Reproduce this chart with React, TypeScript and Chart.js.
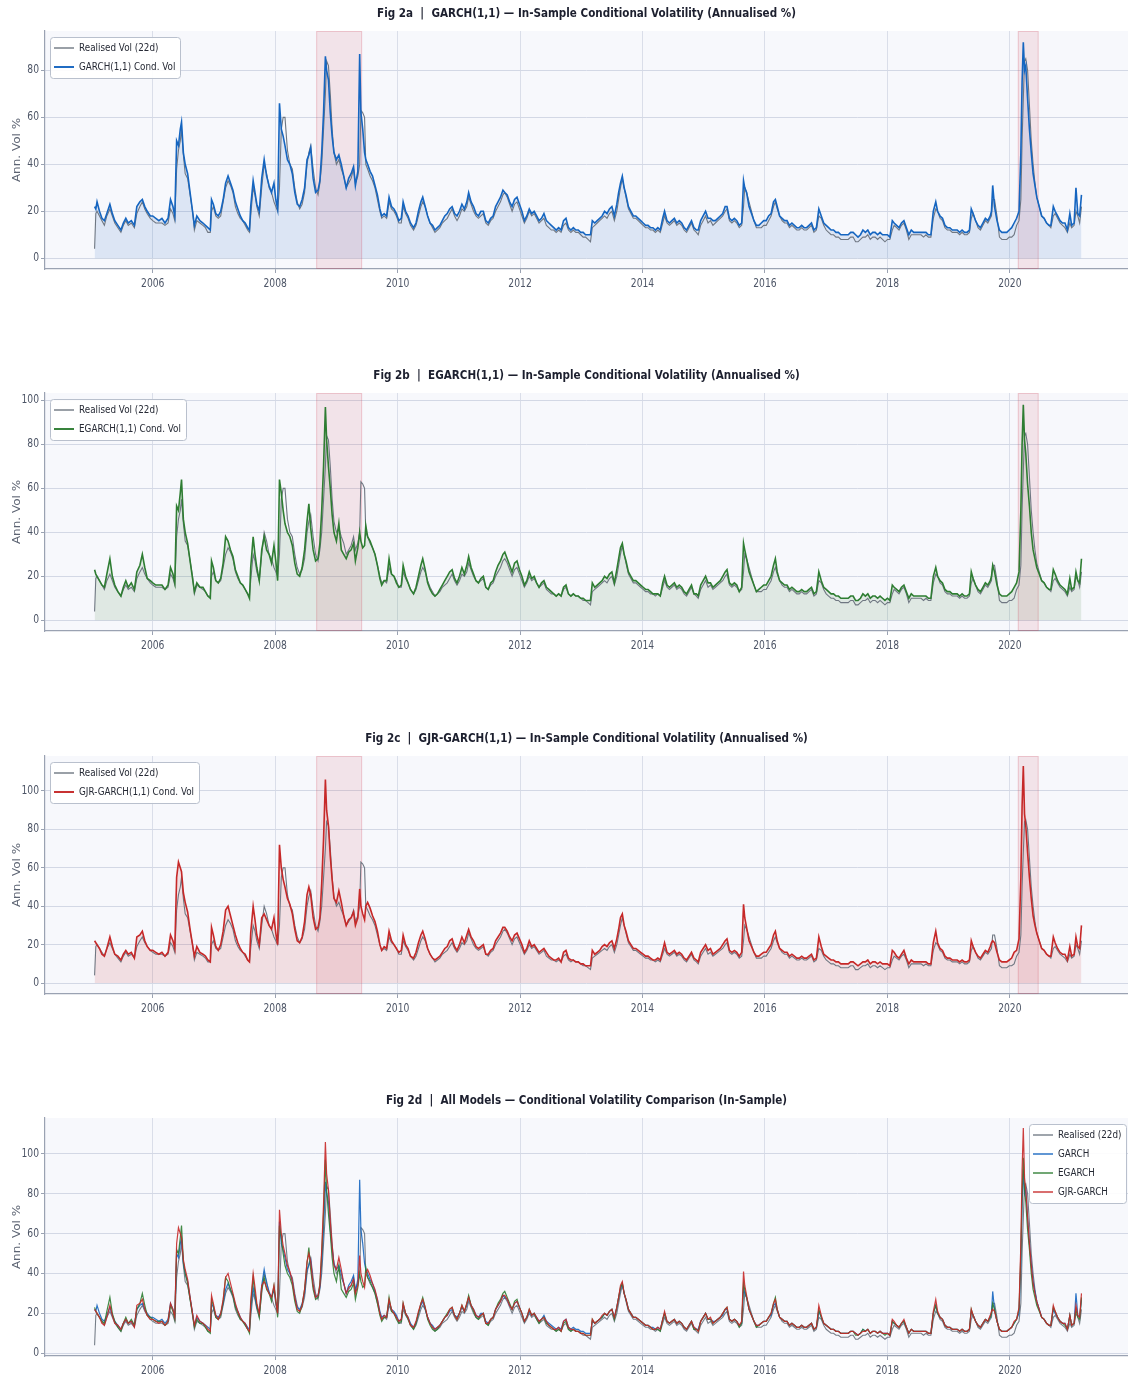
import React, { useEffect, useRef } from 'react';
import { Chart, registerables } from 'chart.js';

Chart.register(...registerables);

// ---------------- DATA (decimal years, annualised vol %) ----------------
const dates = [
  2005.05, 2005.07, 2005.09, 2005.13, 2005.17, 2005.21, 2005.25, 2005.30, 2005.34, 2005.38, 2005.43, 2005.48, 2005.52, 2005.56, 2005.60, 2005.65, 2005.70, 2005.74, 2005.79, 2005.83, 2005.87, 2005.91, 2005.96,
  2006.00, 2006.05, 2006.10, 2006.15, 2006.20, 2006.25, 2006.29, 2006.33, 2006.36, 2006.39, 2006.42, 2006.45, 2006.47, 2006.50, 2006.53, 2006.57, 2006.61, 2006.65, 2006.68, 2006.72, 2006.77, 2006.82, 2006.86, 2006.90, 2006.94, 2006.96, 2006.99,
  2007.03, 2007.07, 2007.11, 2007.15, 2007.19, 2007.23, 2007.27, 2007.31, 2007.35, 2007.39, 2007.43, 2007.47, 2007.51, 2007.55, 2007.58, 2007.60, 2007.64, 2007.67, 2007.70, 2007.74, 2007.78, 2007.82, 2007.86, 2007.90, 2007.94, 2007.98,
  2008.01, 2008.04, 2008.07, 2008.10, 2008.13, 2008.16, 2008.20, 2008.24, 2008.28, 2008.32, 2008.36, 2008.40, 2008.44, 2008.48, 2008.52, 2008.55, 2008.58, 2008.62, 2008.66, 2008.70, 2008.73, 2008.76, 2008.79, 2008.82, 2008.84, 2008.87, 2008.90, 2008.93, 2008.96,
  2009.00, 2009.04, 2009.08, 2009.12, 2009.16, 2009.20, 2009.24, 2009.28, 2009.31, 2009.35, 2009.38, 2009.40, 2009.43, 2009.46, 2009.48, 2009.51, 2009.55, 2009.59, 2009.63, 2009.67, 2009.71, 2009.74, 2009.78, 2009.82, 2009.86, 2009.90, 2009.94, 2009.98,
  2010.02, 2010.06, 2010.09, 2010.13, 2010.17, 2010.21, 2010.26, 2010.30, 2010.34, 2010.38, 2010.41, 2010.45, 2010.49, 2010.53, 2010.57, 2010.61, 2010.65, 2010.69, 2010.73, 2010.77, 2010.81, 2010.85, 2010.89, 2010.93, 2010.97,
  2011.01, 2011.05, 2011.09, 2011.13, 2011.16, 2011.20, 2011.24, 2011.28, 2011.32, 2011.36, 2011.40, 2011.44, 2011.48, 2011.52, 2011.56, 2011.60, 2011.64, 2011.68, 2011.72, 2011.75, 2011.79, 2011.83, 2011.87, 2011.91, 2011.95, 2011.99,
  2012.03, 2012.07, 2012.11, 2012.15, 2012.19, 2012.23, 2012.27, 2012.31, 2012.35, 2012.39, 2012.43, 2012.47, 2012.51, 2012.55, 2012.59, 2012.63, 2012.67, 2012.71, 2012.75, 2012.79, 2012.83, 2012.87, 2012.91, 2012.95, 2012.99,
  2013.03, 2013.07, 2013.11, 2013.15, 2013.18, 2013.22, 2013.26, 2013.30, 2013.34, 2013.38, 2013.42, 2013.46, 2013.50, 2013.54, 2013.58, 2013.61, 2013.64, 2013.67, 2013.70, 2013.73, 2013.77, 2013.81, 2013.85, 2013.89, 2013.93, 2013.97,
  2014.01, 2014.05, 2014.09, 2014.13, 2014.17, 2014.21, 2014.25, 2014.29, 2014.33, 2014.36, 2014.40, 2014.44, 2014.48, 2014.52, 2014.56, 2014.60, 2014.64, 2014.68, 2014.72, 2014.76, 2014.80, 2014.84, 2014.88, 2014.91, 2014.95, 2014.99,
  2015.03, 2015.07, 2015.11, 2015.15, 2015.19, 2015.23, 2015.27, 2015.31, 2015.35, 2015.38, 2015.42, 2015.46, 2015.50, 2015.54, 2015.58, 2015.62, 2015.65, 2015.67, 2015.70, 2015.74, 2015.78, 2015.82, 2015.86, 2015.90, 2015.94, 2015.98,
  2016.02, 2016.06, 2016.10, 2016.14, 2016.17, 2016.20, 2016.24, 2016.28, 2016.32, 2016.36, 2016.40, 2016.44, 2016.48, 2016.52, 2016.56, 2016.60, 2016.64, 2016.68, 2016.72, 2016.76, 2016.80, 2016.84, 2016.88, 2016.92, 2016.96,
  2017.00, 2017.04, 2017.08, 2017.12, 2017.16, 2017.20, 2017.24, 2017.28, 2017.32, 2017.36, 2017.40, 2017.44, 2017.48, 2017.52, 2017.56, 2017.60, 2017.64, 2017.68, 2017.72, 2017.76, 2017.80, 2017.84, 2017.88, 2017.92, 2017.96,
  2018.00, 2018.04, 2018.08, 2018.11, 2018.15, 2018.19, 2018.23, 2018.27, 2018.31, 2018.35, 2018.39, 2018.43, 2018.47, 2018.51, 2018.55, 2018.59, 2018.63, 2018.67, 2018.71, 2018.75, 2018.79, 2018.82, 2018.86, 2018.90, 2018.94, 2018.98,
  2019.02, 2019.06, 2019.10, 2019.14, 2019.18, 2019.22, 2019.26, 2019.30, 2019.34, 2019.37, 2019.40, 2019.44, 2019.48, 2019.52, 2019.56, 2019.60, 2019.64, 2019.68, 2019.70, 2019.72, 2019.75, 2019.79, 2019.83, 2019.87, 2019.91, 2019.95, 2019.99,
  2020.03, 2020.07, 2020.11, 2020.15, 2020.18, 2020.20, 2020.22, 2020.24, 2020.26, 2020.29, 2020.32, 2020.35, 2020.38, 2020.41, 2020.44, 2020.48, 2020.52, 2020.56, 2020.60, 2020.64, 2020.67, 2020.71, 2020.74, 2020.78, 2020.82, 2020.86, 2020.90, 2020.94, 2020.98,
  2021.01, 2021.05, 2021.08, 2021.11, 2021.14, 2021.17,
];

const realised = [
  4, 19, 20, 18, 16, 14, 18, 21, 18, 15, 13, 11, 14, 16, 14, 15, 13, 19, 22, 24, 21, 19, 17,
  16, 15, 15, 15, 14, 15, 21, 19, 16, 38, 46, 50, 55, 44, 36, 34, 27, 20, 12, 16, 15, 14, 13, 11, 11, 20, 22,
  18, 17, 18, 24, 30, 33, 31, 28, 22, 19, 17, 16, 14, 12, 11, 18, 30, 27, 22, 18, 30, 40, 36, 30, 28, 24,
  22, 20, 30, 55, 60, 60, 46, 40, 38, 30, 24, 21, 23, 28, 40, 45, 48, 38, 30, 27, 32, 40, 55, 70, 84, 82, 70, 55, 45,
  40, 42, 38, 35, 30, 32, 34, 38, 32, 35, 40, 63, 62, 60, 40, 38, 35, 33, 30, 25, 20, 17, 18, 17, 24, 21, 20, 18,
  15, 15, 22, 19, 17, 14, 12, 14, 18, 22, 24, 22, 18, 15, 13, 11, 12, 13, 15, 16, 17, 19, 21, 18, 16,
  18, 21, 20, 22, 26, 23, 20, 18, 17, 18, 19, 15, 14, 16, 17, 20, 22, 24, 27, 28, 26, 23, 20, 23, 24, 21,
  18, 15, 17, 20, 18, 19, 17, 15, 16, 17, 14, 13, 12, 12, 11, 12, 11, 14, 15, 12, 11, 12, 11, 11, 10,
  9, 9, 8, 7, 13, 14, 15, 16, 17, 18, 17, 19, 20, 16, 20, 25, 30, 34, 30, 26, 21, 19, 17, 17, 16, 15,
  14, 13, 13, 12, 12, 11, 12, 11, 15, 18, 15, 14, 15, 16, 14, 15, 14, 12, 11, 13, 15, 12, 11, 10, 14, 16,
  18, 15, 16, 14, 15, 16, 17, 18, 20, 21, 16, 15, 16, 15, 13, 14, 22, 30, 28, 24, 20, 16, 13, 13, 13, 14,
  14, 16, 18, 22, 24, 21, 18, 16, 15, 15, 13, 14, 13, 12, 12, 13, 12, 12, 13, 14, 11, 12, 18, 17, 14,
  12, 11, 10, 10, 9, 9, 8, 8, 8, 8, 9, 9, 7, 7, 8, 9, 9, 10, 8, 9, 9, 8, 9, 8, 7,
  8, 8, 12, 14, 13, 12, 14, 15, 12, 8, 10, 10, 10, 10, 10, 9, 10, 9, 9, 17, 21, 20, 17, 16, 13, 12,
  12, 11, 11, 11, 10, 11, 10, 10, 11, 17, 19, 16, 13, 12, 14, 16, 15, 17, 18, 25, 25, 18, 9, 8, 8, 8, 9,
  9, 10, 14, 16, 25, 50, 68, 84, 85, 80, 65, 50, 40, 32, 26, 22, 18, 17, 15, 14, 13, 18, 19, 17, 15, 14, 13, 11, 15,
  13, 14, 20, 18, 15, 22,
];

const garch = [
  22, 21, 24, 20, 17, 16, 19, 23, 19, 16, 14, 12, 15, 17, 15, 16, 14, 22, 24, 25, 22, 20, 18,
  18, 17, 16, 17, 15, 17, 25, 22, 18, 50, 48, 55, 58, 45, 40, 36, 28, 20, 14, 18, 16, 15, 14, 13, 12, 25, 23,
  19, 18, 20, 25, 32, 35, 32, 29, 24, 21, 18, 16, 15, 13, 12, 22, 33, 28, 23, 20, 34, 42, 35, 31, 28, 32,
  25, 21, 66, 55, 52, 48, 42, 40, 36, 28, 23, 22, 25, 30, 42, 44, 47, 34, 28, 29, 33, 45, 62, 86, 80, 76, 62, 52, 45,
  42, 44, 40, 35, 30, 34, 36, 39, 31, 37, 87, 62, 55, 45, 42, 40, 37, 35, 31, 27, 21, 18, 19, 18, 26, 22, 21, 19,
  16, 17, 24, 20, 18, 15, 13, 15, 20, 24, 26, 22, 18, 15, 14, 12, 13, 14, 16, 18, 19, 21, 22, 19, 18,
  20, 23, 21, 24, 28, 24, 22, 19, 18, 20, 20, 16, 15, 17, 18, 22, 24, 26, 29, 28, 27, 24, 22, 25, 26, 23,
  20, 16, 18, 21, 19, 20, 18, 16, 17, 19, 16, 15, 14, 13, 12, 13, 12, 16, 17, 13, 12, 13, 12, 12, 11,
  11, 10, 10, 10, 16, 15, 16, 17, 18, 20, 19, 21, 22, 18, 23, 28, 32, 35, 30, 27, 22, 20, 18, 18, 17, 16,
  15, 14, 14, 13, 13, 12, 13, 12, 17, 20, 16, 15, 16, 17, 15, 16, 15, 13, 12, 14, 16, 13, 12, 12, 16, 18,
  20, 17, 17, 16, 16, 17, 18, 19, 22, 22, 17, 16, 17, 16, 14, 15, 33, 30, 28, 22, 19, 16, 14, 14, 15, 16,
  16, 18, 19, 24, 25, 22, 18, 17, 16, 16, 14, 15, 14, 13, 13, 14, 13, 13, 14, 15, 12, 13, 21, 18, 15,
  14, 13, 12, 12, 11, 11, 10, 10, 10, 10, 11, 11, 10, 9, 10, 12, 11, 12, 10, 11, 11, 10, 11, 10, 10,
  10, 9, 16, 15, 14, 13, 15, 16, 13, 10, 12, 11, 11, 11, 11, 11, 11, 10, 10, 20, 24, 20, 18, 17, 14, 13,
  13, 12, 12, 12, 11, 12, 11, 11, 12, 21, 19, 16, 14, 13, 15, 17, 16, 18, 20, 31, 22, 16, 12, 11, 11, 11, 12,
  13, 15, 17, 20, 45, 75, 92, 80, 82, 68, 55, 45, 36, 31, 26, 22, 18, 17, 15, 14, 14, 22, 20, 18, 16, 15, 15, 12, 19,
  14, 15, 30, 19, 18, 27,
];

const egarch = [
  23, 21, 20, 18, 16, 15, 21, 28, 20, 16, 13, 11, 15, 18, 15, 17, 14, 22, 25, 30, 24, 19, 18,
  17, 16, 16, 16, 14, 16, 24, 21, 17, 52, 50, 58, 64, 46, 40, 35, 27, 19, 13, 17, 15, 15, 13, 11, 10, 27, 24,
  18, 17, 19, 26, 38, 36, 32, 29, 23, 20, 17, 16, 14, 12, 10, 24, 38, 30, 24, 18, 32, 38, 32, 30, 26, 34,
  27, 18, 64, 58, 50, 44, 40, 38, 34, 26, 21, 20, 24, 32, 45, 53, 42, 32, 27, 28, 35, 50, 70, 97, 82, 70, 60, 48, 40,
  36, 44, 32, 30, 28, 31, 32, 35, 27, 33, 40, 36, 33, 34, 43, 38, 36, 33, 30, 25, 19, 16, 18, 18, 28, 21, 20, 17,
  15, 16, 25, 20, 17, 14, 12, 15, 20, 25, 28, 23, 17, 14, 12, 11, 12, 14, 16, 18, 20, 22, 23, 19, 17,
  20, 24, 21, 25, 29, 24, 21, 18, 17, 19, 20, 15, 14, 17, 18, 22, 25, 27, 30, 31, 28, 25, 22, 26, 27, 23,
  20, 16, 18, 22, 19, 20, 17, 15, 17, 18, 15, 14, 13, 12, 11, 12, 11, 15, 16, 12, 11, 12, 11, 11, 10,
  10, 9, 9, 9, 17, 15, 16, 17, 18, 20, 19, 21, 22, 17, 23, 28, 33, 35, 30, 27, 22, 20, 18, 18, 17, 16,
  15, 14, 14, 13, 12, 12, 12, 11, 17, 20, 16, 15, 16, 17, 15, 16, 15, 13, 12, 14, 16, 12, 12, 11, 16, 18,
  20, 17, 17, 15, 16, 17, 18, 20, 22, 23, 17, 16, 17, 16, 13, 15, 35, 32, 28, 22, 19, 16, 13, 14, 15, 16,
  16, 18, 20, 25, 28, 22, 18, 17, 16, 16, 14, 15, 14, 13, 13, 14, 13, 13, 14, 15, 12, 13, 22, 18, 15,
  14, 13, 12, 12, 11, 11, 10, 10, 10, 10, 11, 11, 9, 9, 10, 12, 11, 12, 10, 11, 11, 10, 11, 10, 9,
  10, 9, 16, 15, 14, 13, 15, 16, 13, 10, 12, 11, 11, 11, 11, 11, 11, 10, 10, 20, 24, 20, 18, 17, 14, 13,
  13, 12, 12, 12, 11, 12, 11, 11, 12, 22, 19, 16, 14, 13, 15, 17, 16, 18, 20, 25, 22, 16, 12, 11, 11, 11, 12,
  13, 15, 17, 22, 50, 80, 98, 82, 76, 62, 52, 40, 32, 28, 24, 21, 18, 17, 15, 14, 14, 23, 21, 18, 16, 15, 14, 12, 19,
  14, 15, 22, 18, 17, 28,
];

const gjr = [
  22, 21, 20, 18, 15, 14, 18, 24, 19, 15, 14, 12, 15, 17, 15, 16, 13, 24, 25, 27, 22, 19, 17,
  17, 16, 15, 16, 14, 16, 25, 22, 18, 55, 63, 60, 58, 47, 42, 37, 28, 20, 14, 19, 16, 15, 14, 12, 11, 29, 25,
  19, 17, 20, 27, 38, 40, 35, 30, 25, 21, 18, 16, 15, 12, 11, 26, 40, 33, 25, 20, 34, 36, 33, 30, 28, 34,
  26, 20, 72, 60, 54, 50, 44, 41, 36, 28, 22, 21, 24, 32, 46, 50, 46, 34, 28, 29, 34, 52, 75, 106, 90, 82, 66, 54, 44,
  42, 48, 42, 35, 30, 33, 34, 37, 30, 34, 49, 40, 36, 33, 40, 42, 39, 35, 32, 27, 20, 17, 19, 18, 27, 22, 20, 18,
  16, 17, 25, 20, 18, 14, 13, 16, 21, 25, 27, 23, 18, 15, 13, 12, 13, 14, 16, 18, 19, 22, 23, 19, 17,
  20, 24, 21, 25, 28, 24, 22, 19, 18, 19, 20, 15, 15, 17, 18, 22, 24, 26, 29, 29, 27, 24, 22, 25, 26, 23,
  20, 16, 18, 22, 19, 20, 18, 16, 17, 18, 16, 14, 13, 12, 12, 13, 11, 16, 17, 13, 12, 12, 11, 11, 10,
  10, 9, 9, 9, 17, 15, 16, 17, 19, 20, 19, 21, 22, 18, 23, 28, 34, 36, 30, 27, 22, 20, 18, 18, 17, 16,
  15, 14, 14, 13, 12, 12, 13, 12, 17, 21, 16, 15, 16, 17, 15, 16, 15, 13, 12, 14, 16, 13, 12, 11, 16, 18,
  20, 17, 18, 15, 16, 17, 18, 20, 22, 23, 17, 16, 17, 16, 14, 16, 41, 34, 29, 22, 19, 16, 14, 14, 15, 16,
  16, 18, 20, 25, 27, 22, 18, 17, 16, 16, 14, 15, 14, 13, 13, 14, 13, 13, 14, 15, 12, 13, 24, 19, 15,
  14, 13, 12, 12, 11, 11, 10, 10, 10, 10, 11, 11, 10, 9, 10, 11, 11, 12, 10, 11, 11, 10, 11, 10, 10,
  10, 9, 17, 16, 14, 13, 15, 17, 13, 10, 12, 11, 11, 11, 11, 11, 11, 10, 10, 21, 27, 21, 18, 17, 14, 13,
  13, 12, 12, 12, 11, 12, 11, 11, 12, 22, 19, 16, 14, 13, 15, 17, 16, 19, 21, 22, 21, 16, 12, 11, 11, 11, 12,
  13, 16, 17, 23, 55, 92, 113, 88, 82, 68, 55, 44, 35, 30, 26, 22, 18, 17, 15, 14, 14, 24, 21, 18, 16, 15, 15, 12, 19,
  14, 15, 24, 19, 18, 30,
];

const xTicks = [2006, 2008, 2010, 2012, 2014, 2016, 2018, 2020];
const crisisStarts = [2008.67, 2020.13];
const crisisEnds = [2009.42, 2020.47];

// ---------------- STYLE / LAYOUT ----------------
const W = 1128;
const PLOT_TOP = 31;
const PLOT_BOTTOM = 269;
const Y_AXIS_W = 45;
const X_AXIS_H = 24;
const SX = 0.8; // horizontal squeeze of the original figure's text
const FONT = '"DejaVu Sans", Verdana, sans-serif';
const GREY = '#6f7782';
const BLUE = '#1565C0';
const GREEN = '#2E7D32';
const RED = '#C62828';

type SeriesDef = { label: string; data: number[]; color: string; width: number; fill?: string };
type PanelDef = {
  key: string; top: number; height: number; title: string;
  yMin: number; yMax: number; yTicks: number[];
  series: SeriesDef[]; spans: boolean; legendRight: boolean;
};

const panels: PanelDef[] = [
  {
    key: 'a', top: 0, height: 362,
    title: 'Fig 2a  |  GARCH(1,1) — In-Sample Conditional Volatility (Annualised %)',
    yMin: -4.6, yMax: 96.8, yTicks: [0, 20, 40, 60, 80],
    series: [
      { label: 'Realised Vol (22d)', data: realised, color: GREY, width: 1.1 },
      { label: 'GARCH(1,1) Cond. Vol', data: garch, color: BLUE, width: 1.6, fill: 'rgba(21,101,192,0.12)' },
    ],
    spans: true, legendRight: false,
  },
  {
    key: 'b', top: 362, height: 362,
    title: 'Fig 2b  |  EGARCH(1,1) — In-Sample Conditional Volatility (Annualised %)',
    yMin: -4.9, yMax: 103.4, yTicks: [0, 20, 40, 60, 80, 100],
    series: [
      { label: 'Realised Vol (22d)', data: realised, color: GREY, width: 1.1 },
      { label: 'EGARCH(1,1) Cond. Vol', data: egarch, color: GREEN, width: 1.6, fill: 'rgba(46,125,50,0.12)' },
    ],
    spans: true, legendRight: false,
  },
  {
    key: 'c', top: 725, height: 362,
    title: 'Fig 2c  |  GJR-GARCH(1,1) — In-Sample Conditional Volatility (Annualised %)',
    yMin: -5.7, yMax: 118.2, yTicks: [0, 20, 40, 60, 80, 100],
    series: [
      { label: 'Realised Vol (22d)', data: realised, color: GREY, width: 1.1 },
      { label: 'GJR-GARCH(1,1) Cond. Vol', data: gjr, color: RED, width: 1.6, fill: 'rgba(198,40,40,0.12)' },
    ],
    spans: true, legendRight: false,
  },
  {
    key: 'd', top: 1087, height: 293,
    title: 'Fig 2d  |  All Models — Conditional Volatility Comparison (In-Sample)',
    yMin: -1.4, yMax: 118.0, yTicks: [0, 20, 40, 60, 80, 100],
    series: [
      { label: 'Realised (22d)', data: realised, color: 'rgba(111,119,130,0.95)', width: 1.1 },
      { label: 'GARCH', data: garch, color: 'rgba(21,101,192,0.9)', width: 1.2 },
      { label: 'EGARCH', data: egarch, color: 'rgba(46,125,50,0.9)', width: 1.2 },
      { label: 'GJR-GARCH', data: gjr, color: 'rgba(198,40,40,0.9)', width: 1.2 },
    ],
    spans: false, legendRight: true,
  },
];

function drawText(
  ctx: CanvasRenderingContext2D, text: string, x: number, y: number,
  font: string, color: string, align: CanvasTextAlign,
) {
  ctx.save();
  ctx.font = font;
  ctx.fillStyle = color;
  ctx.textBaseline = 'middle';
  ctx.textAlign = align;
  ctx.translate(x, y);
  ctx.scale(SX, 1);
  ctx.fillText(text, 0, 0);
  ctx.restore();
}

function makeDecor(p: PanelDef) {
  return {
    id: 'decor_' + p.key,
    beforeDraw(chart: any) {
      const { ctx, chartArea: a } = chart;
      ctx.save();
      ctx.fillStyle = '#F7F8FC';
      ctx.fillRect(a.left, a.top, a.right - a.left, a.bottom - a.top);
      ctx.restore();
    },
    beforeDatasetsDraw(chart: any) {
      if (!p.spans) return;
      const { ctx, chartArea: a } = chart;
      const xs = chart.scales.x;
      ctx.save();
      for (let i = 0; i < crisisStarts.length; i++) {
        const x1 = xs.getPixelForValue(crisisStarts[i]);
        const x2 = xs.getPixelForValue(crisisEnds[i]);
        ctx.fillStyle = 'rgba(205,60,80,0.11)';
        ctx.fillRect(x1, a.top, x2 - x1, a.bottom - a.top);
        ctx.strokeStyle = 'rgba(205,60,80,0.2)';
        ctx.lineWidth = 1;
        ctx.strokeRect(x1 + 0.5, a.top + 0.5, x2 - x1 - 1, a.bottom - a.top - 1);
      }
      ctx.restore();
    },
    afterDraw(chart: any) {
      const { ctx, chartArea: a } = chart;
      const xs = chart.scales.x;
      const ys = chart.scales.y;
      // title
      drawText(ctx, p.title, (a.left + a.right) / 2, 14, `bold 13px ${FONT}`, '#1c1f2e', 'center');
      // tick labels
      const tickFont = `11.5px ${FONT}`;
      for (const v of xTicks) {
        drawText(ctx, String(v), xs.getPixelForValue(v), a.bottom + 15, tickFont, '#4d5566', 'center');
      }
      for (const v of p.yTicks) {
        drawText(ctx, String(v), a.left - 6, ys.getPixelForValue(v), tickFont, '#4d5566', 'right');
      }
      // y label (rotated; original text squeezed horizontally)
      ctx.save();
      ctx.font = `12px ${FONT}`;
      ctx.fillStyle = '#5c6372';
      ctx.textAlign = 'center';
      ctx.textBaseline = 'middle';
      ctx.translate(17, (a.top + a.bottom) / 2);
      ctx.scale(SX, 1);
      ctx.rotate(-Math.PI / 2);
      ctx.fillText('Ann. Vol %', 0, 0);
      ctx.restore();
      // legend
      const lf = `11px ${FONT}`;
      ctx.save();
      ctx.font = lf;
      const maxW = Math.max(...p.series.map((s) => ctx.measureText(s.label).width * SX));
      ctx.restore();
      const boxW = Math.round(4 + 20 + 5 + maxW + 5);
      const boxH = 22 + (p.series.length - 1) * 19;
      const bx = p.legendRight ? a.right - 2 - boxW : a.left + 5;
      const by = a.top + 6;
      ctx.save();
      ctx.fillStyle = 'rgba(255,255,255,0.92)';
      ctx.strokeStyle = '#b9c0cd';
      ctx.lineWidth = 1;
      ctx.beginPath();
      if ((ctx as any).roundRect) (ctx as any).roundRect(bx + 0.5, by + 0.5, boxW, boxH, 3);
      else ctx.rect(bx + 0.5, by + 0.5, boxW, boxH);
      ctx.fill();
      ctx.stroke();
      p.series.forEach((s, i) => {
        const ry = by + 11 + i * 19;
        ctx.strokeStyle = s.color;
        ctx.lineWidth = s.width + 0.3;
        ctx.beginPath();
        ctx.moveTo(bx + 4, ry);
        ctx.lineTo(bx + 24, ry);
        ctx.stroke();
        drawText(ctx, s.label, bx + 29, ry, lf, '#262a35', 'left');
      });
      ctx.restore();
    },
  };
}

function Panel({ p }: { p: PanelDef }) {
  const ref = useRef<HTMLCanvasElement>(null);
  useEffect(() => {
    if (!ref.current) return;
    const n = p.series.length;
    const datasets = p.series.map((s, i) => ({
      label: s.label,
      data: dates.map((t, k) => ({ x: t, y: s.data[k] })),
      borderColor: s.color,
      borderWidth: s.width,
      backgroundColor: s.fill || 'transparent',
      fill: s.fill ? 'origin' : false,
      pointRadius: 0,
      tension: 0,
      order: n - i,
    }));
    const chart = new Chart(ref.current, {
      type: 'line',
      data: { datasets },
      plugins: [makeDecor(p)],
      options: {
        animation: false,
        responsive: false,
        events: [],
        layout: { padding: { top: PLOT_TOP, left: 0, right: 0, bottom: p.height - PLOT_BOTTOM - X_AXIS_H } },
        plugins: {
          legend: { display: false },
          tooltip: { enabled: false },
          title: { display: false },
          filler: { drawTime: 'beforeDatasetsDraw' },
        } as any,
        scales: {
          x: {
            type: 'linear',
            min: 2004.24,
            max: 2021.93,
            afterBuildTicks: (s: any) => { s.ticks = xTicks.map((v) => ({ value: v })); },
            afterFit: (s: any) => { s.height = X_AXIS_H; },
            ticks: { display: false },
            grid: { color: '#DADEE9', lineWidth: 1, drawTicks: true, tickLength: 4, tickColor: '#9aa2b2' },
            border: { display: true, color: '#9aa2b2', width: 1.2 },
          },
          y: {
            type: 'linear',
            min: p.yMin,
            max: p.yMax,
            afterBuildTicks: (s: any) => { s.ticks = p.yTicks.map((v) => ({ value: v })); },
            afterFit: (s: any) => { s.width = Y_AXIS_W; },
            ticks: { display: false },
            grid: { color: '#D3D8E5', lineWidth: 1, drawTicks: true, tickLength: 4, tickColor: '#9aa2b2' },
            border: { display: true, color: '#9aa2b2', width: 1.2 },
          },
        },
      } as any,
    });
    return () => chart.destroy();
  }, [p]);
  return (
    <canvas
      ref={ref}
      width={W}
      height={p.height}
      style={{ position: 'absolute', left: 0, top: p.top, display: 'block', width: W, height: p.height }}
    />
  );
}

export default function App() {
  useEffect(() => {
    document.body.style.margin = '0';
  }, []);
  return (
    <div style={{ position: 'relative', width: W, height: 1380, background: '#ffffff', overflow: 'hidden' }}>
      {panels.map((p) => (
        <Panel key={p.key} p={p} />
      ))}
    </div>
  );
}
